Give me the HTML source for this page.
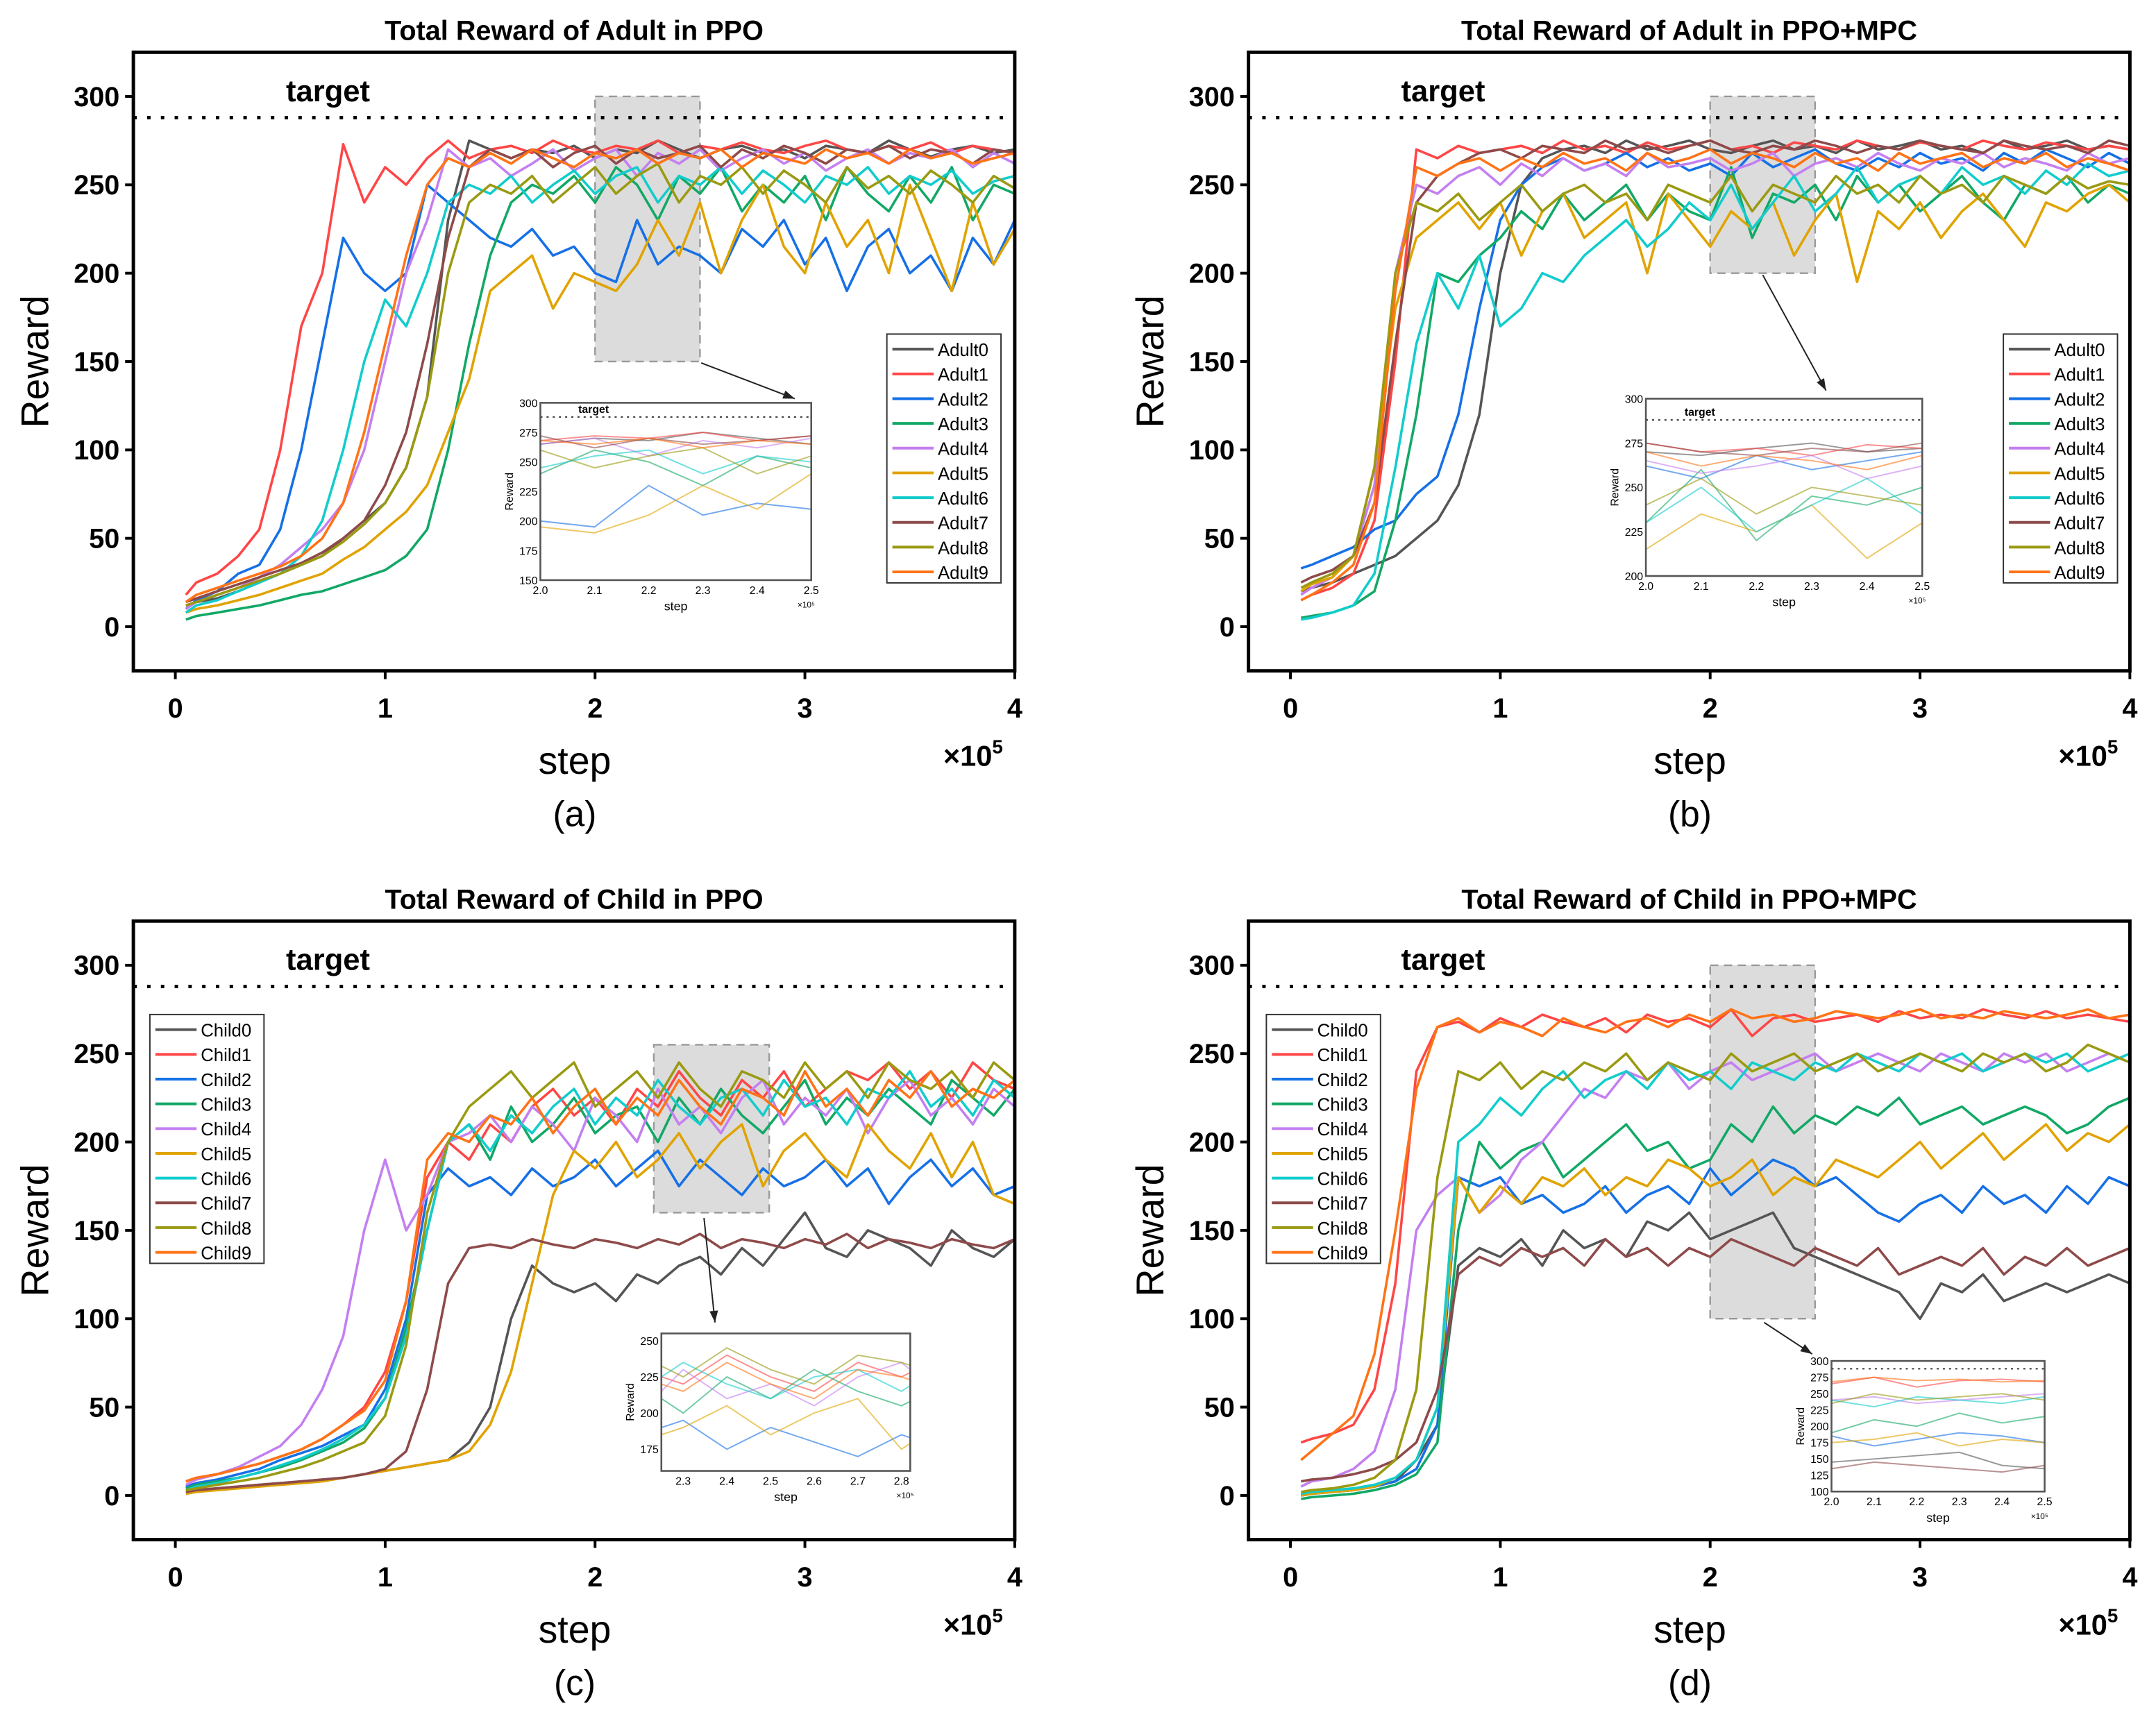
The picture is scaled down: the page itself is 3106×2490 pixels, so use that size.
<!DOCTYPE html>
<html><head><meta charset="utf-8"><style>
html,body{margin:0;padding:0;background:#fff}
svg{display:block}
text{font-family:"Liberation Sans",Arial,sans-serif}
</style></head><body>
<svg id="fig" xmlns="http://www.w3.org/2000/svg" width="3106" height="2490" viewBox="0 0 1568 1257"></svg>
<script>
const colors=["#555555","#ff4646","#1670e6","#12a866","#c47ff0","#e0a300","#12cccc","#8e4a4a","#9a9a12","#ff7316"];
const yTicks=[0,50,100,150,200,250,300];
const xTicks=[0,1,2,3,4];
const adultNames=["Adult0","Adult1","Adult2","Adult3","Adult4","Adult5","Adult6","Adult7","Adult8","Adult9"];
const childNames=["Child0","Child1","Child2","Child3","Child4","Child5","Child6","Child7","Child8","Child9"];
const targetValue=288;
// panel a
const a0=[12,14,16,20,25,30,35,40,50,60,70,90,130,230,275,270,265,270,268,272,265,270,268,275,270,265,270,272,268,270,265,272,270,268,275,270,266,270,272,268,270];
const a1=[18,25,30,40,55,100,170,200,273,240,260,250,265,275,265,270,272,268,275,270,268,272,270,275,268,272,270,274,270,268,272,275,270,268,272,270,274,268,272,270,268];
const a2=[10,15,20,30,35,55,100,160,220,200,190,200,250,240,230,220,215,225,210,215,200,195,230,205,215,210,200,225,215,230,205,220,190,215,225,200,210,190,220,205,230];
const a3=[4,6,8,10,12,15,18,20,24,28,32,40,55,100,160,210,240,250,245,255,240,260,250,230,255,245,260,235,250,240,255,230,260,245,235,255,240,260,230,250,245];
const a4=[10,14,18,22,28,35,45,55,70,100,150,200,230,270,260,265,255,262,270,258,265,270,255,268,262,270,258,265,270,262,268,258,265,270,262,268,265,270,260,268,262];
const a5=[8,10,12,15,18,22,26,30,38,45,55,65,80,110,140,190,200,210,180,200,195,190,205,230,210,240,200,230,250,215,200,240,215,230,200,250,220,190,240,205,225];
const a6=[8,12,15,20,25,30,40,60,100,150,185,170,200,240,250,245,255,240,250,258,245,255,260,240,255,250,260,245,258,250,240,255,250,260,245,255,250,258,245,252,255];
const a7=[14,16,20,24,28,32,36,42,50,60,80,110,160,220,260,270,265,270,260,268,272,262,270,265,268,272,260,270,265,272,268,262,270,268,272,265,270,268,262,270,268];
const a8=[12,14,18,22,26,30,35,40,48,58,70,90,130,200,240,250,245,255,240,250,260,245,255,262,240,255,250,260,245,258,250,240,260,248,255,245,258,250,240,255,248];
const a9=[14,18,22,26,30,34,40,50,70,110,160,210,250,265,260,268,262,270,265,260,268,265,270,262,268,265,270,260,268,265,262,270,265,268,262,270,265,268,262,265,268];
// panel b
const b0=[20,22,25,30,35,40,50,60,80,120,200,250,265,270,272,268,275,270,272,275,270,268,272,275,270,272,268,275,270,272,275,270,272,268,275,270,272,275,270,272,270];
const b1=[15,18,22,30,60,150,270,265,272,268,270,272,268,275,270,272,268,274,270,272,275,270,272,268,274,272,270,275,272,270,274,272,270,275,272,270,274,272,270,272,270];
const b2=[33,35,40,45,55,60,75,85,120,180,230,250,260,265,258,262,268,260,265,258,262,255,268,260,265,270,262,258,265,260,268,262,265,258,268,262,270,265,260,268,262];
const b3=[5,6,8,12,20,60,120,200,195,210,220,235,225,245,230,240,250,230,245,235,230,260,220,245,240,250,230,255,240,250,235,245,255,240,230,250,245,255,240,250,245];
const b4=[18,22,28,40,80,200,250,245,255,260,250,262,255,265,258,262,255,268,260,262,265,258,262,268,255,262,265,260,268,262,258,265,262,268,260,265,262,258,268,262,265];
const b5=[20,24,28,40,90,180,220,230,240,225,240,210,235,245,220,230,240,200,245,230,215,235,225,240,210,230,245,195,235,225,240,220,235,245,230,215,240,235,245,250,240];
const b6=[4,5,8,12,30,90,160,200,180,210,170,180,200,195,210,220,230,215,225,240,230,250,225,240,255,235,245,260,240,250,255,245,260,250,255,245,258,250,262,255,258];
const b7=[25,28,32,40,70,160,240,255,262,268,270,265,272,270,268,275,270,272,268,272,275,270,268,272,270,275,272,268,272,270,275,272,270,268,275,272,270,272,268,275,272];
const b8=[22,25,30,40,90,200,240,235,245,230,240,250,235,245,250,240,245,230,250,245,240,255,235,250,245,240,255,245,250,240,255,245,250,240,255,250,245,255,248,252,250];
const b9=[15,18,25,35,70,190,260,255,262,265,258,265,260,268,262,265,258,268,262,265,270,262,268,265,260,268,262,265,258,268,262,265,268,260,265,262,268,260,265,262,258];
// panel c
const c0=[2,3,4,5,6,7,8,9,10,12,14,16,18,20,30,50,100,130,120,115,120,110,125,120,130,135,125,140,130,145,160,140,135,150,145,140,130,150,140,135,145];
const c1=[8,10,12,15,18,22,26,32,40,50,70,110,180,200,190,210,200,220,230,215,225,210,230,220,240,225,215,235,225,240,220,230,240,235,245,230,240,225,245,235,230];
const c2=[5,7,9,12,15,20,24,28,34,40,60,100,170,185,175,180,170,185,175,180,190,175,185,195,175,190,180,170,185,175,180,190,175,185,165,180,190,175,185,170,175];
const c3=[4,6,8,10,13,16,20,25,30,38,55,95,150,200,210,190,220,200,210,225,205,215,220,200,225,210,230,215,205,220,235,210,225,215,230,220,210,235,225,215,230];
const c4=[6,9,12,16,22,28,40,60,90,150,190,150,170,200,205,215,200,220,210,195,225,215,200,230,210,220,205,225,235,210,225,215,230,205,225,235,215,225,210,230,220];
const c5=[1,2,3,4,5,6,7,8,10,12,14,16,18,20,25,40,70,120,170,195,185,200,180,190,205,185,200,210,175,195,205,190,180,210,195,185,205,180,200,170,165];
const c6=[3,5,7,10,13,17,21,26,32,40,55,90,150,200,210,195,215,205,220,230,210,225,215,235,220,210,225,230,215,235,220,225,210,230,225,240,220,230,215,235,225];
const c7=[2,3,4,5,6,7,8,9,10,12,15,25,60,120,140,142,140,145,142,140,145,143,140,145,142,148,140,145,143,140,145,142,148,140,145,143,140,145,142,140,145];
const c8=[3,4,6,8,10,13,16,20,25,30,45,85,160,200,220,230,240,225,235,245,220,230,240,225,245,230,220,240,235,225,245,230,240,225,245,235,230,240,225,245,235];
const c9=[8,10,12,15,18,22,26,32,40,48,65,110,190,205,200,215,210,225,205,220,230,210,225,215,235,220,210,230,225,215,240,220,230,215,235,225,240,220,230,225,235];
// panel d
const d0=[0,1,2,3,5,8,20,40,130,140,135,145,130,150,140,145,135,155,150,160,145,150,155,160,140,135,130,125,120,115,100,120,115,125,110,115,120,115,120,125,120];
const d1=[30,32,35,40,60,120,240,265,268,262,270,265,272,268,265,270,262,272,268,270,265,275,260,270,272,268,270,272,268,274,270,272,270,275,272,270,274,270,272,270,268];
const d2=[0,1,2,3,5,8,15,40,180,175,180,165,170,160,165,175,160,170,175,165,185,170,180,190,185,175,180,170,160,155,165,170,160,175,165,170,160,175,165,180,175];
const d3=[-2,-1,0,1,3,6,12,30,150,200,185,195,200,180,190,200,210,195,200,185,190,210,200,220,205,215,210,220,215,225,210,215,220,210,215,220,215,205,210,220,225];
const d4=[5,8,10,15,25,60,150,170,180,160,170,190,200,215,230,225,240,235,245,230,240,245,235,240,245,250,240,245,250,245,240,250,245,240,250,245,250,240,245,250,245];
const d5=[0,1,2,3,5,10,20,50,180,160,175,165,180,175,185,170,180,175,190,185,175,180,190,170,180,175,190,185,180,190,200,185,195,205,190,200,210,195,205,200,210];
const d6=[1,2,3,4,6,10,20,50,200,210,225,215,230,240,225,235,240,230,245,235,240,230,245,240,235,245,240,250,245,240,250,245,250,240,245,250,245,250,240,245,250];
const d7=[8,9,10,12,15,20,30,60,125,135,130,140,135,140,130,145,135,140,130,140,135,145,140,135,130,140,135,130,140,125,130,135,130,140,125,135,130,140,130,135,140];
const d8=[2,3,4,6,10,20,60,180,240,235,245,230,240,235,245,240,250,235,245,240,235,250,240,245,250,240,245,250,240,245,250,245,240,250,245,250,240,245,255,250,245];
const d9=[20,25,35,45,80,150,230,265,270,262,268,265,260,270,265,262,268,270,265,272,268,275,270,272,268,270,274,272,270,272,275,270,272,270,274,272,270,272,275,270,272];

const NS="http://www.w3.org/2000/svg";
const svg=document.getElementById('fig');
function el(tag,attrs,parent,txt){const e=document.createElementNS(NS,tag);for(const k in attrs)e.setAttribute(k,attrs[k]);if(txt!==undefined)e.textContent=txt;(parent||svg).appendChild(e);return e;}
function stepOf(i){return i===0?0.05:i*0.1;}

function panel(cfg){
  const g=el('g',{});
  
  
  const L=cfg.x0, T=cfg.y0, W=641, H=450;
  const sx=v=>L+(v+0.2)/4.2*W;
  const sy=v=>T+H-(v+25)/350*H;
  const t=el('text',{x:L+W/2,y:T-9,'text-anchor':'middle','font-size':20,'font-weight':'bold'},g,cfg.title);
  
  
  const zr=el('rect',{x:sx(cfg.zoom[0]),y:sy(cfg.zoom[3]),width:sx(cfg.zoom[1])-sx(cfg.zoom[0]),height:sy(cfg.zoom[2])-sy(cfg.zoom[3]),fill:'#dcdcdc',stroke:'#999','stroke-dasharray':'6,4','stroke-width':1.2},g);
  
  
  cfg.series.forEach((s,k)=>{
    const pts=s.map((v,i)=>sx(stepOf(i)).toFixed(1)+','+sy(v).toFixed(1)).join(' ');
    const p=el('polyline',{points:pts,fill:'none',stroke:colors[k],'stroke-width':1.8,'stroke-linejoin':'round'},g);
    
    
  });
  const tl=el('line',{x1:L,x2:L+W,y1:sy(targetValue),y2:sy(targetValue),stroke:'#000','stroke-width':2.5,'stroke-dasharray':'2.5,7.5'},g);
  
  
  const tt=el('text',{x:L+111,y:sy(targetValue)-12,'font-size':22,'font-weight':'bold'},g,'target');
  
  
  const fr=el('rect',{x:L,y:T,width:W,height:H,fill:'none',stroke:'#000','stroke-width':2.5},g);
  
  
  yTicks.forEach(v=>{
    el('line',{x1:L-6,x2:L,y1:sy(v),y2:sy(v),stroke:'#000','stroke-width':2},g);
    const tx=el('text',{x:L-10,y:sy(v)+7,'text-anchor':'end','font-size':20,'font-weight':'bold'},g,String(v));
    
    
  });
  xTicks.forEach(v=>{
    el('line',{x1:sx(v),x2:sx(v),y1:T+H,y2:T+H+6,stroke:'#000','stroke-width':2},g);
    const tx=el('text',{x:sx(v),y:T+H+34,'text-anchor':'middle','font-size':20,'font-weight':'bold'},g,String(v));
    
    
  });
  const yl=el('text',{x:0,y:0,transform:`translate(${L-62},${T+225}) rotate(-90)`,'text-anchor':'middle','font-size':28},g,'Reward');
  
  
  const xl=el('text',{x:L+321,y:T+H+75,'text-anchor':'middle','font-size':28},g,'step');
  
  
  const mul=el('text',{x:L+589,y:T+H+69,'font-size':21,'font-weight':'bold'},g);
  mul.innerHTML='×10<tspan dy="-9" font-size="14">5</tspan>';
  
  
  const cap=el('text',{x:L+321,y:T+H+113,'text-anchor':'middle','font-size':26},g,cfg.cap);
  
  
  const lg=el('g',{},g);
  
  
  el('rect',{x:cfg.leg[0],y:cfg.leg[1],width:83,height:181,fill:'#fff',stroke:'#333','stroke-width':1},lg);
  cfg.names.forEach((n,k)=>{
    const yy=cfg.leg[1]+11+k*18;
    const e=el('g',{},lg);
    
    
    el('line',{x1:cfg.leg[0]+4,x2:cfg.leg[0]+34,y1:yy,y2:yy,stroke:colors[k],'stroke-width':2},e);
    el('text',{x:cfg.leg[0]+37,y:yy+5,'font-size':13},e,n);
  });
  const I=cfg.inset;
  const ig=el('g',{},g);
  
  
  const ix=v=>I[0]+(v-I[4])/(I[5]-I[4])*I[2];
  const iy=v=>I[1]+I[3]-(v-I[6])/(I[7]-I[6])*I[3];
  el('rect',{x:I[0],y:I[1],width:I[2],height:I[3],fill:'#fff'},ig);
  const cid='clip'+cfg.cap.replace(/\W/g,'');
  const cp=el('clipPath',{id:cid},ig);el('rect',{x:I[0],y:I[1],width:I[2],height:I[3]},cp);
  const cg=el('g',{'clip-path':`url(#${cid})`},ig);
  cfg.series.forEach((s,k)=>{
    const pts=s.map((v,i)=>ix(stepOf(i)).toFixed(1)+','+iy(v).toFixed(1)).join(' ');
    const p=el('polyline',{points:pts,fill:'none',stroke:colors[k],'stroke-width':1,opacity:0.6},cg);
    
    
  });
  el('line',{x1:I[0],x2:I[0]+I[2],y1:iy(targetValue),y2:iy(targetValue),stroke:'#333','stroke-width':1,'stroke-dasharray':'1.5,3'},cg);
  if(cfg.insetTarget) el('text',{x:I[0]+I[2]*0.14,y:iy(targetValue)-3,'font-size':8,'font-weight':'bold'},ig,'target');
  el('rect',{x:I[0],y:I[1],width:I[2],height:I[3],fill:'none',stroke:'#555','stroke-width':1.3},ig);
  I[8].forEach(v=>el('text',{x:ix(v),y:I[1]+I[3]+10,'text-anchor':'middle','font-size':8},ig,v.toFixed(1)));
  I[9].forEach(v=>el('text',{x:I[0]-2,y:iy(v)+3,'text-anchor':'end','font-size':8},ig,String(v)));
  el('text',{x:I[0]+I[2]/2,y:I[1]+I[3]+22,'text-anchor':'middle','font-size':9},ig,'step');
  el('text',{x:I[0]+I[2]-10,y:I[1]+I[3]+20,'font-size':6},ig,'×10⁵');
  el('text',{x:0,y:0,transform:`translate(${I[0]-20},${I[1]+I[3]/2}) rotate(-90)`,'text-anchor':'middle','font-size':8},ig,'Reward');
  el('line',{x1:cfg.arrow[0],y1:cfg.arrow[1],x2:cfg.arrow[2],y2:cfg.arrow[3],stroke:'#222','stroke-width':1},g);
  const ang=Math.atan2(cfg.arrow[3]-cfg.arrow[1],cfg.arrow[2]-cfg.arrow[0]);
  const ax=cfg.arrow[2],ay=cfg.arrow[3];
  el('polygon',{points:`${ax},${ay} ${ax-9*Math.cos(ang-0.35)},${ay-9*Math.sin(ang-0.35)} ${ax-9*Math.cos(ang+0.35)},${ay-9*Math.sin(ang+0.35)}`,fill:'#222'},g);
}

panel({name:'panel-a',x0:97,y0:38,title:'Total Reward of Adult in PPO',cap:'(a)',series:[a0,a1,a2,a3,a4,a5,a6,a7,a8,a9],names:adultNames,
  zoom:[2,2.5,150,300],leg:[645,243],inset:[393,293,197,129,2,2.5,150,300,[2.0,2.1,2.2,2.3,2.4,2.5],[150,175,200,225,250,275,300]],insetTarget:true,arrow:[510,264,578,290]});
panel({name:'panel-b',x0:908,y0:38,title:'Total Reward of Adult in PPO+MPC',cap:'(b)',series:[b0,b1,b2,b3,b4,b5,b6,b7,b8,b9],names:adultNames,
  zoom:[2,2.5,200,300],leg:[1457,243],inset:[1197,290,201,129,2,2.5,200,300,[2.0,2.1,2.2,2.3,2.4,2.5],[200,225,250,275,300]],insetTarget:true,arrow:[1282,200,1328,284]});
panel({name:'panel-c',x0:97,y0:670,title:'Total Reward of Child in PPO',cap:'(c)',series:[c0,c1,c2,c3,c4,c5,c6,c7,c8,c9],names:childNames,
  zoom:[2.28,2.83,160,255],leg:[109,738],inset:[481,970,181,100,2.25,2.82,160,255,[2.3,2.4,2.5,2.6,2.7,2.8],[175,200,225,250]],insetTarget:false,arrow:[512,886,520,962]});
panel({name:'panel-d',x0:908,y0:670,title:'Total Reward of Child in PPO+MPC',cap:'(d)',series:[d0,d1,d2,d3,d4,d5,d6,d7,d8,d9],names:childNames,
  zoom:[2,2.5,100,300],leg:[921,738],inset:[1332,990,155,95,2,2.5,100,300,[2.0,2.1,2.2,2.3,2.4,2.5],[100,125,150,175,200,225,250,275,300]],insetTarget:false,arrow:[1283,962,1318,985]});
</script>
</body></html>
